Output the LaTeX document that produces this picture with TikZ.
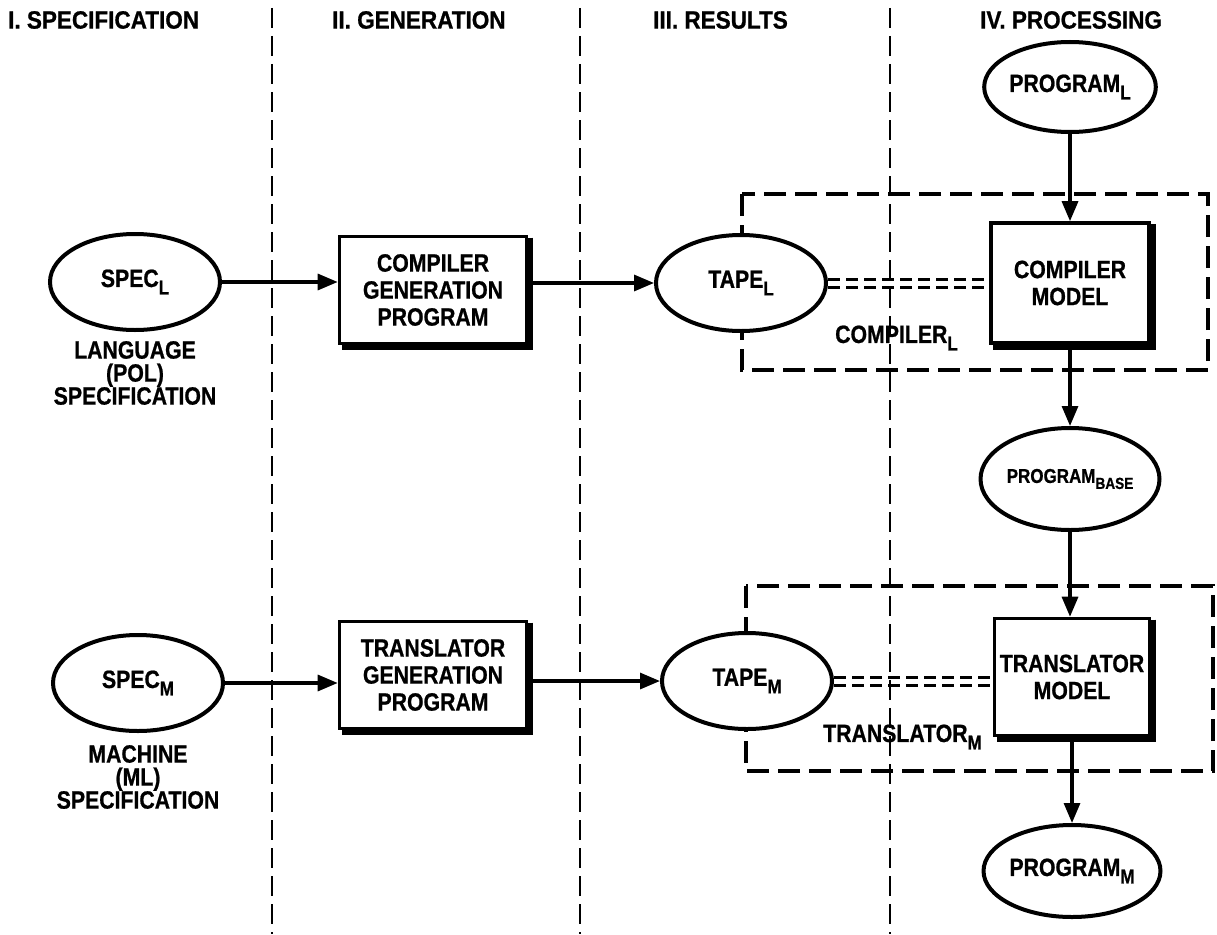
\documentclass[tikz,border=0pt]{standalone}
\usepackage{fontspec}
\setmainfont{Liberation Sans}[FakeStretch=0.85, BoldFeatures={FakeBold=0.8}]
\newfontfamily\hdrfont{Liberation Sans}[FakeStretch=0.9, BoldFeatures={FakeBold=0.8}]
\usetikzlibrary{shapes.geometric,arrows.meta}
\newcommand\subs[1]{\raisebox{-0.3em}{\fontsize{20}{20}\selectfont #1}}
\newcommand\smallsubs[1]{\raisebox{-0.3em}{\fontsize{16}{16}\selectfont #1}}
\tikzset{
  oval/.style={draw, ellipse, line width=4pt, fill=white, inner sep=0pt,
    minimum width=170pt, minimum height=96pt, font=\fontsize{25}{27}\selectfont\bfseries},
  procbox/.style={draw, rectangle, line width=3.6pt, fill=white, inner sep=0pt,
    minimum width=187pt, minimum height=107pt, align=center,
    font=\fontsize{25}{27}\selectfont\bfseries},
  modelbox/.style={procbox, minimum width=158pt, minimum height=120pt},
  arr/.style={line width=3.2pt, -{Triangle[length=20pt,width=16pt]}},
  divider/.style={line width=2.8pt, dash pattern=on 20pt off 8pt},
  encl/.style={line width=3.6pt, dash pattern=on 22pt off 9pt},
  dbl/.style={line width=3pt, dash pattern=on 12pt off 6pt},
  shadowedge/.style={line width=6.5pt},
  hdr/.style={font=\hdrfont\fontsize{25}{25}\selectfont\bfseries, anchor=west, inner sep=0pt},
  note/.style={align=center, inner sep=0pt, font=\fontsize{25}{23}\selectfont\bfseries},
  lbl/.style={font=\fontsize{25}{25}\selectfont\bfseries, anchor=west, inner sep=0pt},
}
\begin{document}
\begin{tikzpicture}[x=1pt,y=-1pt]
\useasboundingbox (0,0) rectangle (1217,934);
\fill[white] (0,0) rectangle (1217,934);

% headers
\node[hdr] (h1) at (8,20) {I.\ SPECIFICATION};
\node[hdr] (h2) at (332,20) {II.\ GENERATION};
\node[hdr] (h3) at (653,20) {III.\ RESULTS};
\node[hdr] (h4) at (980,20) {IV.\ PROCESSING};

% column dividers
\coordinate (d1t) at (272,8);   \coordinate (d1b) at (272,934);
\coordinate (d2t) at (580,8);   \coordinate (d2b) at (580,934);
\coordinate (d3t) at (890,8);   \coordinate (d3b) at (890,934);
\draw[divider] (d1t) -- (d1b);
\draw[divider] (d2t) -- (d2b);
\draw[divider] (d3t) -- (d3b);

% enclosures
\coordinate (c1) at (742,194); \coordinate (c2) at (1208,370);
\coordinate (t1) at (746,586); \coordinate (t2) at (1213,771);
\draw[encl] (c1) rectangle (c2);
\draw[encl] (t1) rectangle (t2);

% nodes
\node[oval] (specL) at (135,282) {SPEC\subs{L}};
\node[note] (specLnote) at (135,373) {LANGUAGE\\(POL)\\SPECIFICATION};
\node[oval] (specM) at (138,683) {SPEC\subs{M}};
\node[note] (specMnote) at (138,777) {MACHINE\\(ML)\\SPECIFICATION};

\node[procbox] (cgen) at (433,290) {COMPILER\\GENERATION\\PROGRAM};
\node[procbox] (tgen) at (433,675) {TRANSLATOR\\GENERATION\\PROGRAM};

\node[oval] (tapeL) at (741,283) {TAPE\subs{L}};
\node[oval] (tapeM) at (747,681) {TAPE\subs{M}};

\node[oval, minimum height=90pt] (progL) at (1070,87) {PROGRAM\subs{L}};
\node[modelbox] (cmodel) at (1070,283) {COMPILER\\MODEL};
\node[oval, minimum width=168pt, minimum height=102pt, font=\fontsize{20}{22}\selectfont\bfseries] (progB) at (1070,479) {PROGRAM\smallsubs{BASE}};
\node[modelbox, minimum width=155pt, minimum height=117pt] (tmodel) at (1072,677) {TRANSLATOR\\MODEL};
\node[oval, minimum height=92pt] (progM) at (1072,871) {PROGRAM\subs{M}};

% shadow edges of boxes
\foreach \b in {cgen,tgen,cmodel,tmodel}{
  \draw[shadowedge] ([xshift=1.5pt,yshift=-3pt]\b.north east) -- ([xshift=1.5pt,yshift=-1.5pt]\b.south east) -- ([xshift=4pt,yshift=-1.5pt]\b.south west);
}

% labels
\node[lbl] (compL) at (835,338) {COMPILER\subs{L}};
\node[lbl] (transM) at (823,737) {TRANSLATOR\subs{M}};

% connectors
\draw[arr] (specL.east) -- (specL.east -| cgen.west);
\draw[arr] (cgen.east |- tapeL.west) -- (tapeL.west);
\draw[arr] (specM.east) -- (specM.east -| tgen.west);
\draw[arr] (tgen.east |- tapeM.west) -- (tapeM.west);

\draw[arr] (progL.south) -- (cmodel.north);
\draw[arr] (cmodel.south) -- (progB.north);
\draw[arr] (progB.south) -- (progB.south |- tmodel.north);
\draw[arr] (tmodel.south) -- (progM.north);

\draw[dbl] ([yshift=4pt]tapeL.east) -- ([yshift=4pt]tapeL.east -| cmodel.west);
\draw[dbl] ([yshift=-4pt]tapeL.east) -- ([yshift=-4pt]tapeL.east -| cmodel.west);
\draw[dbl] ([yshift=4pt]tapeM.east) -- ([yshift=4pt]tapeM.east -| tmodel.west);
\draw[dbl] ([yshift=-4pt]tapeM.east) -- ([yshift=-4pt]tapeM.east -| tmodel.west);
\end{tikzpicture}
\end{document}
